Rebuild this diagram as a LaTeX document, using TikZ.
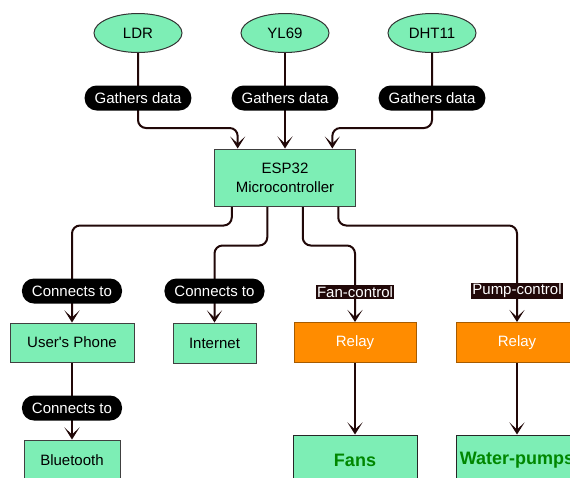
\documentclass[tikz,border=0pt]{standalone}
\usepackage{fontspec}
\setmainfont{Liberation Sans}
\usepackage{tikz}
\usetikzlibrary{calc,positioning,backgrounds,arrows.meta,shapes}
\definecolor{mint}{RGB}{125,238,181}
\definecolor{wire}{RGB}{33,8,8}
\definecolor{relayorange}{RGB}{255,140,0}
\definecolor{fangreen}{RGB}{0,135,0}

\begin{document}
\begin{tikzpicture}[auto, x=1pt, y=-1pt, font=\fontsize{15}{19}\selectfont]
      \tikzset{
	  sensor/.style={ellipse, draw=black!80, fill=mint, line width=1pt, minimum width=88pt, minimum height=39pt, inner sep=0pt},
	  unit/.style={rectangle, draw=black!75, fill=mint, line width=1pt, minimum height=40pt, inner sep=2pt, text centered},
	  relaybox/.style={rectangle, draw=relayorange!65!black, fill=relayorange, line width=1pt, minimum width=122pt, minimum height=40pt, text=white},
	  outbox/.style={rectangle, draw=black!85, fill=mint, line width=1pt, minimum width=124pt, minimum height=50pt, text=fangreen, font=\bfseries\fontsize{18}{22}\selectfont},
	  tagpill/.style={rectangle, rounded corners=12pt, fill=black, text=white, minimum height=25pt, inner xsep=10pt, inner ysep=0pt},
	  tagflat/.style={rectangle, fill=wire, text=white, inner xsep=1.5pt, inner ysep=1pt},
	  flow/.style={draw=wire, line width=2pt, rounded corners=8pt, -{Stealth[length=12pt,width=15pt,inset=7pt]}}
      }
      \useasboundingbox (0,0) rectangle (570,477);

      % sensors
      \node at (138, 33) [sensor] (ldr) {LDR};
      \node at (285, 33) [sensor] (yl) {YL69};
      \node at (432, 33) [sensor] (dht) {DHT11};
      \node at (138, 98) [tagpill] (g1) {Gathers data};
      \node at (285, 98) [tagpill] (g2) {Gathers data};
      \node at (432, 98) [tagpill] (g3) {Gathers data};

      \node at (285, 177.5) [unit, minimum width=141pt, minimum height=57pt, align=center] (esp) {ESP32\\Microcontroller};
      \coordinate (e1) at ($(esp.north west)!1/6!(esp.north east)$);
      \coordinate (e3) at ($(esp.north west)!5/6!(esp.north east)$);
      \coordinate (o1) at ($(esp.south west)!1/8!(esp.south east)$);
      \coordinate (o2) at ($(esp.south west)!3/8!(esp.south east)$);
      \coordinate (o3) at ($(esp.south west)!5/8!(esp.south east)$);
      \coordinate (o4) at ($(esp.south west)!7/8!(esp.south east)$);

      % second row
      \node at (72, 342.5) [unit, minimum width=124pt, minimum height=39pt] (phone) {User\textquotesingle s Phone};
      \node at (214.5, 343) [unit, minimum width=83pt] (net) {Internet};
      \node at (355, 342.5) [relaybox] (relayA) {Relay};
      \node at (517, 342.5) [relaybox] (relayB) {Relay};
      \node at (72, 291) [tagpill] (c1) {Connects to};
      \node at (214.5, 291) [tagpill] (c2) {Connects to};
      \node at (355, 292) [tagflat] (fc) {Fan-control};
      \node at (517, 291) [tagflat] (pc) {Pump-control};

      % third row
      \node at (72, 408) [tagpill] (c3) {Connects to};
      \node at (72, 460) [unit, minimum width=96pt] (bt) {Bluetooth};
      \node at (355, 460) [outbox] (fans) {Fans};
      \node at (517, 460) [outbox, minimum width=122pt] (pumps) {Water-pumps};

      \begin{scope}[on background layer]
	\draw[flow] (ldr.south) -- ++(0,75) -| (e1);
	\draw[flow] (yl.south) -- (esp.north);
	\draw[flow] (dht.south) -- ++(0,75) -| (e3);
	\draw[flow] (o1) -- ++(0,19) -| (phone.north);
	\draw[flow] (o2) -- ++(0,39) -| (net.north);
	\draw[flow] (o3) -- ++(0,39) -| (relayA.north);
	\draw[flow] (o4) -- ++(0,19) -| (relayB.north);
	\draw[flow] (phone) -- (bt);
	\draw[flow] (relayA) -- (fans);
	\draw[flow] (relayB) -- (pumps);
      \end{scope}
\end{tikzpicture}
\end{document}
